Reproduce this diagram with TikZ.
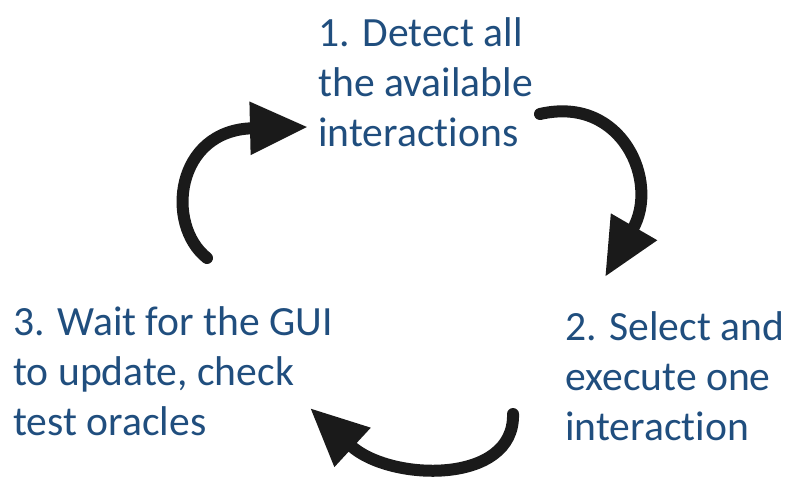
\documentclass[tikz,border=0pt]{standalone}
\usepackage{fontspec}
\setmainfont[Ligatures=NoCommon]{Carlito}
\usetikzlibrary{arrows.meta}
\definecolor{stepblue}{RGB}{32,78,126}
\definecolor{arcblack}{RGB}{26,26,26}

\begin{document}
\begin{tikzpicture}[
			x=0.5pt, y=-0.5pt,
			label/.style={anchor=base west, inner sep=0pt, align=left, text=stepblue, font=\fontsize{20.8pt}{25pt}\selectfont},
			arc/.style={-{Triangle[length=29pt, width=25pt]}, line width=6pt, line cap=round, draw=arcblack}
			]
			\useasboundingbox (0,0) rectangle (786,476);
			% Steps (placed at the baseline of the last line)
			\node[label] (detect) at (318,147) {1. Detect all\\the available\\interactions};
			\node[label] (select) at (565,440) {2. Select and\\execute one\\interaction};
			\node[label] (wait) at (13,435) {3. Wait for the GUI\\to update, check\\test oracles};
			
			% Arc ends
			\coordinate (a1) at (207,258);
			\coordinate (b1) at (308,127);
			\coordinate (a2) at (540,114);
			\coordinate (b2) at (605,277);
			\coordinate (a3) at (513,414);
			\coordinate (b3) at (310,408);
			
			% Cycle
			\draw[arc] (a1) .. controls (165,225) and (175,130) .. (b1);
			\draw[arc] (a2) .. controls (622,95) and (660,182) .. (b2);
			\draw[arc] (a3) .. controls (515,485) and (390,482) .. (b3);
		\end{tikzpicture}
\end{document}
